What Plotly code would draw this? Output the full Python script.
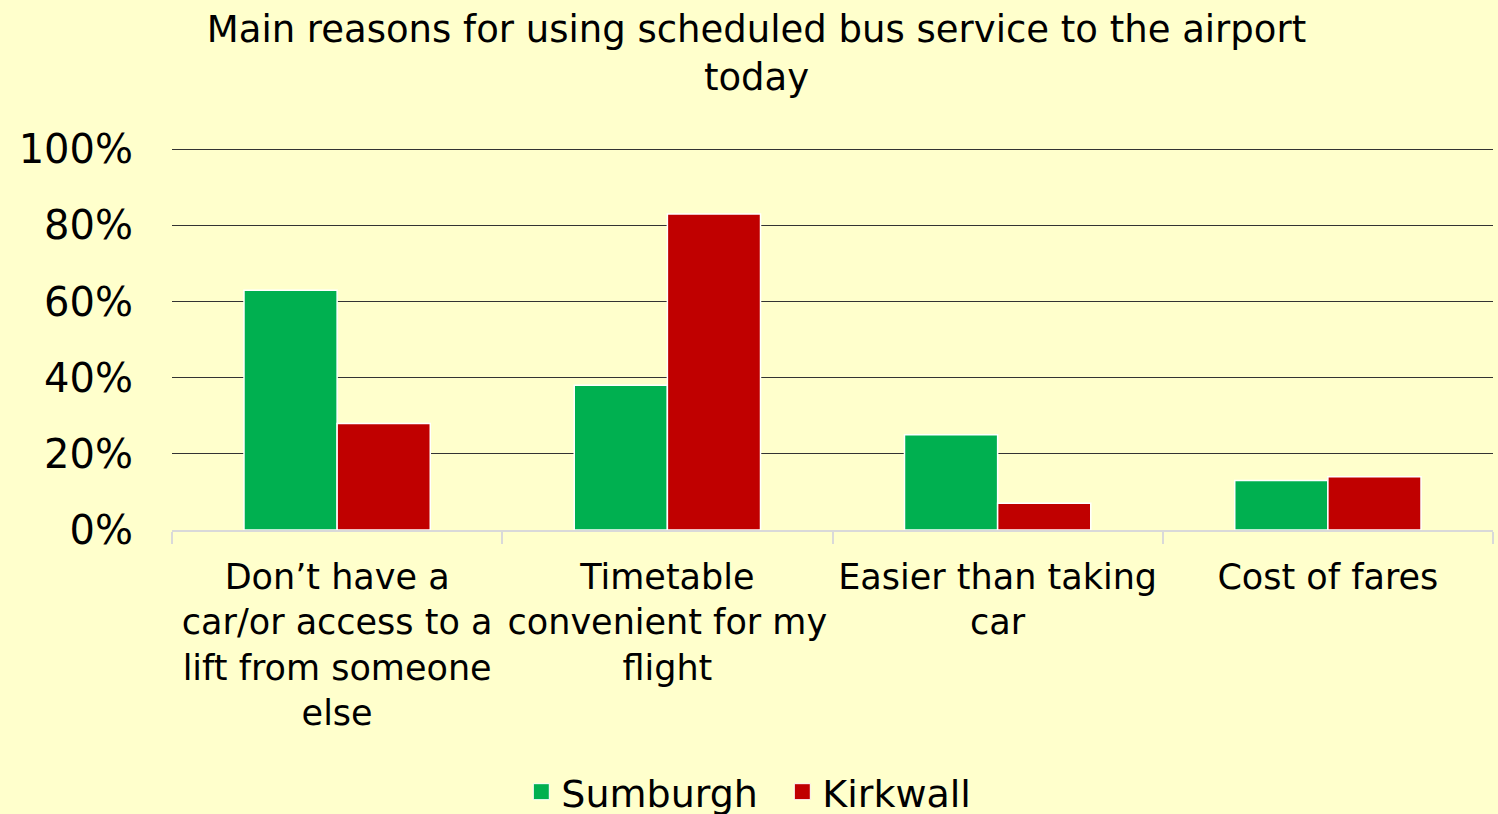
import plotly.graph_objects as go

categories = [
    "Don’t have a<br>car/or access to a<br>lift from someone<br>else",
    "Timetable<br>convenient for my<br>flight",
    "Easier than taking<br>car",
    "Cost of fares",
]
sumburgh = [63, 38, 25, 13]
kirkwall = [28, 83, 7, 14]
series_names = ["Sumburgh", "Kirkwall"]
series_colors = ["#00B050", "#C00000"]
y_tick_values = [0, 20, 40, 60, 80, 100]
y_tick_labels = ["0%", "20%", "40%", "60%", "80%", "100%"]
title_text = "Main reasons for using scheduled bus service to the airport<br>today"

FONT = "'DejaVu Sans', Lato, sans-serif"
BG = "#FFFFCC"

fig = go.Figure()
for name, vals, col in zip(series_names, [sumburgh, kirkwall], series_colors):
    fig.add_trace(go.Bar(x=categories, y=vals, name=name, showlegend=False,
                         marker=dict(color=col, line=dict(color="white", width=1.5))))
# legend entries with larger square swatches
for name, col in zip(series_names, series_colors):
    fig.add_trace(go.Scatter(x=[None], y=[None], name=name, mode="markers",
                             marker=dict(symbol="square", size=22, color=col,
                                         line=dict(color="white", width=1)),
                             showlegend=True))

fig.update_layout(
    width=1498, height=814,
    paper_bgcolor=BG, plot_bgcolor=BG,
    margin=dict(l=172, r=5, t=147, b=284, autoexpand=False),
    barmode="group", bargap=0.436, bargroupgap=0,
    font=dict(family=FONT, color="#000000"),
    title=dict(text=title_text, x=0.505, xref="container", xanchor="center",
               y=0.948, yref="container", yanchor="middle",
               font=dict(size=37, family=FONT, color="#000000")),
    legend=dict(orientation="h", x=0.462, xanchor="center", xref="paper",
                y=-0.684, yanchor="middle", font=dict(size=38, family=FONT),
                bgcolor="rgba(0,0,0,0)", traceorder="normal", itemsizing="trace",
                entrywidth=216, entrywidthmode="pixels"),
    showlegend=True,
)
fig.update_yaxes(range=[0, 100.6], tickmode="array", tickvals=y_tick_values,
                 ticktext=y_tick_labels, showgrid=True,
                 gridcolor="#333333", gridwidth=1.4, zeroline=False,
                 showline=False, ticks="", tickfont=dict(size=40, family=FONT),
                 ticklabelstandoff=38, fixedrange=True)
fig.update_xaxes(showline=True, linecolor="#D9D9D9", linewidth=1.5,
                 ticks="outside", tickson="boundaries", ticklen=12,
                 tickcolor="#D9D9D9", tickwidth=1.5,
                 tickfont=dict(size=35, family=FONT), tickangle=0,
                 ticklabelstandoff=15, fixedrange=True)

fig.write_html("out.html", config={"displayModeBar": False},
               post_script="document.body.style.margin='0';document.body.style.overflow='hidden';")
